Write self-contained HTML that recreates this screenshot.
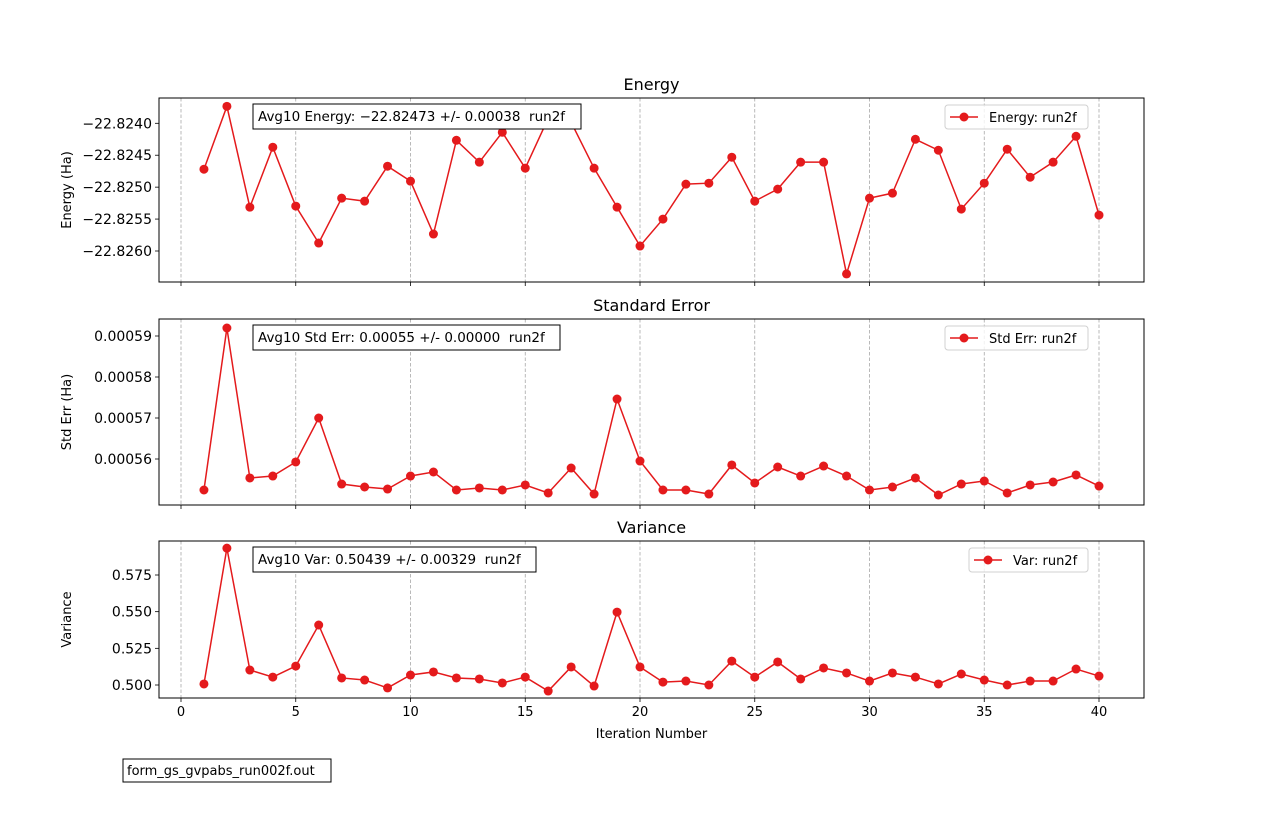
<!DOCTYPE html>
<html><head><meta charset="utf-8"><style>
body{margin:0;background:#fff;}
svg{display:block;font-family:"DejaVu Sans","Liberation Sans",sans-serif;}
</style></head><body>
<svg id="chart" width="1271" height="815" xmlns="http://www.w3.org/2000/svg"></svg>
<script>
const iterations = [];
for (let i = 1; i <= 40; i++) iterations.push(i);
const energyValues = [-22.824719,-22.823734,-22.825313,-22.824375,-22.825297,-22.825875,-22.825172,-22.825219,-22.824672,-22.824906,
-22.825734,-22.824266,-22.824609,-22.824141,-22.824703,-22.823922,-22.823984,-22.824703,-22.825313,-22.825922,
-22.8255,-22.824953,-22.824938,-22.824531,-22.825219,-22.825031,-22.824609,-22.824609,-22.826359,-22.825172,
-22.825094,-22.82425,-22.824422,-22.825344,-22.824938,-22.824406,-22.824844,-22.824609,-22.824203,-22.825438];
const stdErrValues = [0.00055244,0.00059195,0.00055537,0.00055585,0.00055927,0.00057,0.0005539,0.00055317,0.00055268,0.00055585,
0.00055683,0.00055244,0.00055293,0.00055244,0.00055366,0.00055171,0.0005578,0.00055146,0.00057463,0.00055951,
0.00055244,0.00055244,0.00055146,0.00055854,0.00055415,0.00055805,0.00055585,0.00055829,0.00055585,0.00055244,
0.00055317,0.00055537,0.00055122,0.0005539,0.00055463,0.00055171,0.00055366,0.00055439,0.0005561,0.00055341];
const varValues = [0.5007,0.5933,0.5102,0.5054,0.5129,0.5409,0.5048,0.5034,0.498,0.5068,
0.5089,0.5048,0.5041,0.5014,0.5054,0.4959,0.5123,0.4993,0.5497,0.5123,
0.502,0.5027,0.5,0.5163,0.5054,0.5157,0.5041,0.5116,0.5082,0.5027,
0.5082,0.5054,0.5007,0.5075,0.5034,0.5,0.5027,0.5027,0.5109,0.5061];
const xTicks = [0,5,10,15,20,25,30,35,40];
const energyTicks = [-22.8240,-22.8245,-22.8250,-22.8255,-22.8260];
const energyTickLabels = ["\u221222.8240","\u221222.8245","\u221222.8250","\u221222.8255","\u221222.8260"];
const stdTicks = [0.00059,0.00058,0.00057,0.00056];
const stdTickLabels = ["0.00059","0.00058","0.00057","0.00056"];
const varTicks = [0.575,0.550,0.525,0.500];
const varTickLabels = ["0.575","0.550","0.525","0.500"];

const NS = "http://www.w3.org/2000/svg";
const svg = document.getElementById('chart');
function mk(tag, attrs, parent, text){
  const e = document.createElementNS(NS, tag);
  for (const k in attrs) e.setAttribute(k, attrs[k]);
  if (text !== undefined) e.textContent = text;
  (parent || svg).appendChild(e);
  return e;
}
const L = 159, R = 1144;
const xs = v => 181 + (v - 0) * (1099 - 181) / 40;
const SP = '\u00a0\u00a0';

const panels = [
  {name:'energy', top:98, bot:282, title:'Energy', ylabel:'Energy (Ha)', vals:energyValues, ticks:energyTicks, labels:energyTickLabels,
   y0:-22.8240, p0:123.3, y1:-22.8260, p1:251, ann:'Avg10 Energy: \u221222.82473 +/- 0.00038'+SP+'run2f', annX:253, annW:328,
   leg:'Energy: run2f', legX:945, legW:143},
  {name:'std-err', top:319, bot:505, title:'Standard Error', ylabel:'Std Err (Ha)', vals:stdErrValues, ticks:stdTicks, labels:stdTickLabels,
   y0:0.00059, p0:336, y1:0.00056, p1:459, ann:'Avg10 Std Err: 0.00055 +/- 0.00000'+SP+'run2f', annX:253, annW:307,
   leg:'Std Err: run2f', legX:945, legW:143},
  {name:'variance', top:541, bot:698, title:'Variance', ylabel:'Variance', vals:varValues, ticks:varTicks, labels:varTickLabels,
   y0:0.575, p0:575, y1:0.500, p1:685, ann:'Avg10 Var: 0.50439 +/- 0.00329'+SP+'run2f', annX:253, annW:283,
   leg:'Var: run2f', legX:969, legW:119}
];

panels.forEach((p, pi) => {
  const ys = v => p.p0 + (v - p.y0) * (p.p1 - p.p0) / (p.y1 - p.y0);
  const g = mk('g', {});
  
  
  xTicks.forEach(t => {
    const ln = mk('line', {x1:xs(t), x2:xs(t), y1:p.top, y2:p.bot, stroke:'#a8a8a8', 'stroke-width':0.8, 'stroke-dasharray':'3.5,2'}, g);
    
    
    const tk = mk('line', {x1:xs(t), x2:xs(t), y1:p.bot, y2:p.bot+4, stroke:'#000', 'stroke-width':0.8}, g);
    
    
    if (pi === 2) {
      const tl = mk('text', {x:xs(t), y:p.bot+18, 'font-size':13, 'text-anchor':'middle'}, g, String(t));
      
      
    }
  });
  p.ticks.forEach((t, i) => {
    const y = ys(t);
    const tk = mk('line', {x1:L-4, x2:L, y1:y, y2:y, stroke:'#000', 'stroke-width':0.8}, g);
    
    
    const tl = mk('text', {x:L-7, y:y+5, 'font-size':14, 'text-anchor':'end'}, g, p.labels[i]);
    
    
  });
  const pts = p.vals.map((v, i) => xs(iterations[i]) + ',' + ys(v)).join(' ');
  const line = mk('polyline', {points:pts, fill:'none', stroke:'#e41a1c', 'stroke-width':1.5}, g);
  
  
  p.vals.forEach((v, i) => {
    const c = mk('circle', {cx:xs(iterations[i]), cy:ys(v), r:4.5, fill:'#e41a1c'}, g);
    
    
  });
  const fr = mk('rect', {x:L, y:p.top, width:R-L, height:p.bot-p.top, fill:'none', stroke:'#000', 'stroke-width':1}, g);
  
  
  const ti = mk('text', {x:(L+R)/2, y:p.top-8, 'font-size':16, 'text-anchor':'middle'}, g, p.title);
  
  
  const yl = mk('text', {x:0, y:0, 'font-size':13, 'text-anchor':'middle', transform:'translate(71,'+((p.top+p.bot)/2)+') rotate(-90)'}, g, p.ylabel);
  
  
  const ab = mk('rect', {x:p.annX, y:p.top+6, width:p.annW, height:25, fill:'#fff', stroke:'#000', 'stroke-width':1}, g);
  
  
  const at = mk('text', {x:p.annX+5, y:p.top+23, 'font-size':13.5}, g, p.ann);
  
  
  const lg = mk('g', {}, g);
  
  
  mk('rect', {x:p.legX, y:p.top+7, width:p.legW, height:24, rx:3, fill:'#fff', 'fill-opacity':0.8, stroke:'#d0d0d0', 'stroke-width':1}, lg);
  mk('line', {x1:p.legX+5, x2:p.legX+33, y1:p.top+19, y2:p.top+19, stroke:'#e41a1c', 'stroke-width':1.5}, lg);
  mk('circle', {cx:p.legX+19, cy:p.top+19, r:4.5, fill:'#e41a1c'}, lg);
  const lt = mk('text', {x:p.legX+44, y:p.top+24, 'font-size':13}, lg, p.leg);
  
  
});
const xt = mk('text', {x:(L+R)/2, y:738, 'font-size':13, 'text-anchor':'middle'}, svg, 'Iteration Number');


const fb = mk('rect', {x:123, y:759, width:208, height:23, fill:'#fff', stroke:'#000', 'stroke-width':1});


const ft = mk('text', {x:127, y:775, 'font-size':13}, svg, 'form_gs_gvpabs_run002f.out');


</script>
</body></html>
